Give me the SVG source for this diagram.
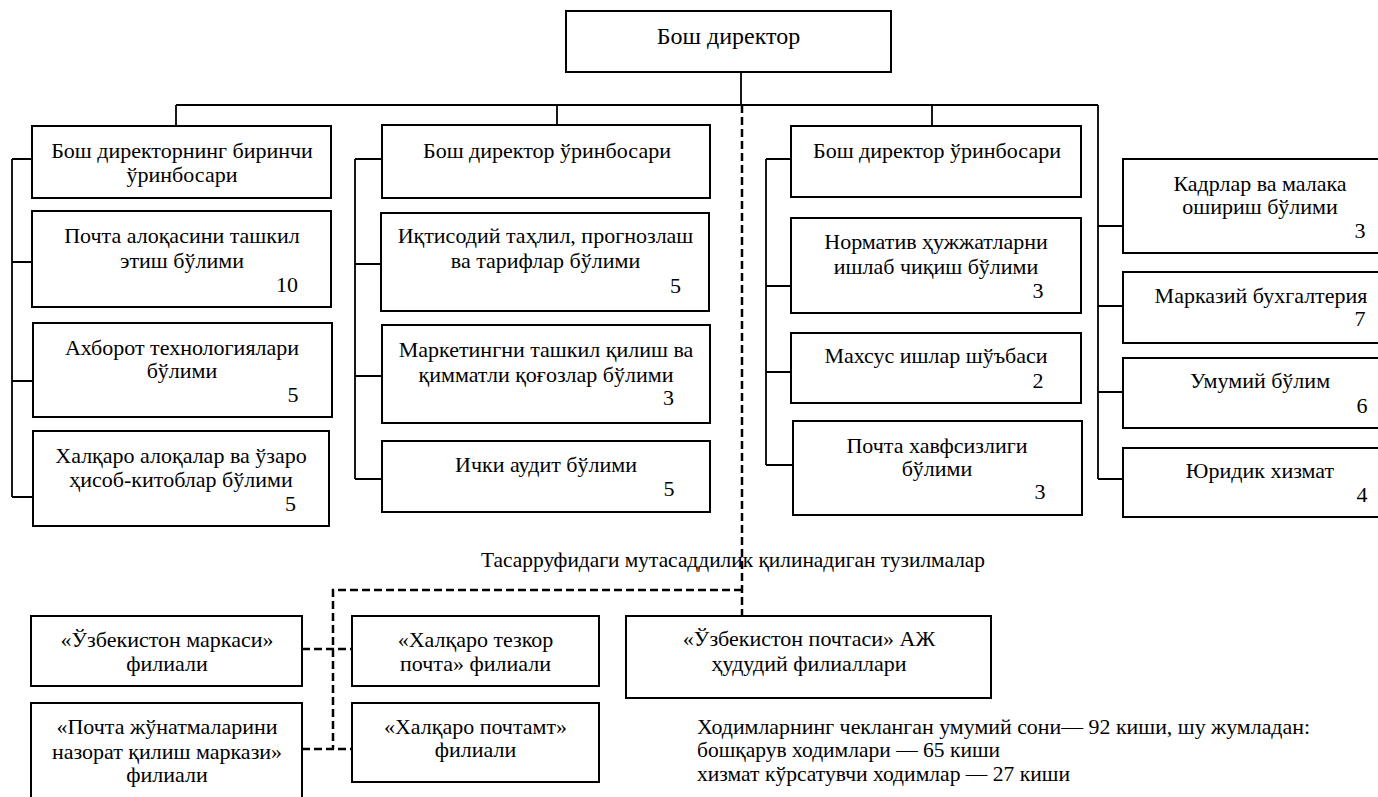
<svg xmlns="http://www.w3.org/2000/svg" width="1378" height="797" viewBox="0 0 1378 797">
<rect width="1378" height="797" fill="#fff"/>
<g id="connectors" fill="none" stroke="#000">
<path stroke-width="1.8" d="M741 72V105M176 105H1098M176 105V126M557 105V125M932 105V126"/>
<path stroke-width="1.8" d="M12 159V497M12 159H32M12 262H32M12 381H33M12 497H33"/>
<path stroke-width="1.8" d="M355 159V479M355 159H382M355 264H381M355 376H382M355 479H382"/>
<path stroke-width="1.8" d="M766 159V465M766 159H791M766 286H791M766 372H791M766 465H793"/>
<path stroke-width="1.8" d="M1098 105V479M1098 226H1123M1098 306H1123M1098 392H1123M1098 479H1123"/>
<path stroke-width="2.5" stroke-dasharray="8 4" d="M742 105V616M742 590H333V749M302 649H352M302 749H352"/>
</g>
<g id="nodes" text-anchor="middle" font-size="22">
<g id="n-top"><rect fill="#fff" stroke="#000" stroke-width="2" x="566" y="11" width="325" height="61"/><text font-family="Liberation Serif, serif" x="728.5" y="44" font-size="24">Бош директор</text></g>
<g id="n-dep1"><rect fill="#fff" stroke="#000" stroke-width="2" x="32" y="126" width="299" height="72"/><text font-family="Liberation Serif, serif" x="182" y="158">Бош директорнинг биринчи</text><text font-family="Liberation Serif, serif" x="182" y="182">ўринбосари</text></g>
<g id="n-pochta"><rect fill="#fff" stroke="#000" stroke-width="2" x="32" y="211" width="299" height="96"/><text font-family="Liberation Serif, serif" x="182" y="243">Почта алоқасини ташкил</text><text font-family="Liberation Serif, serif" x="182" y="268">этиш бўлими</text><text font-family="Liberation Serif, serif" x="287" y="292">10</text></g>
<g id="n-axborot"><rect fill="#fff" stroke="#000" stroke-width="2" x="33" y="323" width="299" height="94"/><text font-family="Liberation Serif, serif" x="182" y="355">Ахборот технологиялари</text><text font-family="Liberation Serif, serif" x="182" y="378">бўлими</text><text font-family="Liberation Serif, serif" x="293" y="402">5</text></g>
<g id="n-xalqaro"><rect fill="#fff" stroke="#000" stroke-width="2" x="33" y="431" width="296" height="95"/><text font-family="Liberation Serif, serif" x="181" y="463">Халқаро алоқалар ва ўзаро</text><text font-family="Liberation Serif, serif" x="181" y="487">ҳисоб-китоблар бўлими</text><text font-family="Liberation Serif, serif" x="290.5" y="511">5</text></g>
<g id="n-dep2"><rect fill="#fff" stroke="#000" stroke-width="2" x="382" y="125" width="328" height="73"/><text font-family="Liberation Serif, serif" x="547" y="158">Бош директор ўринбосари</text></g>
<g id="n-iqtisod"><rect fill="#fff" stroke="#000" stroke-width="2" x="381" y="213" width="328" height="98"/><text font-family="Liberation Serif, serif" x="545.5" y="243">Иқтисодий таҳлил, прогнозлаш</text><text font-family="Liberation Serif, serif" x="545.5" y="268">ва тарифлар бўлими</text><text font-family="Liberation Serif, serif" x="675.5" y="293">5</text></g>
<g id="n-marketing"><rect fill="#fff" stroke="#000" stroke-width="2" x="382" y="325" width="328" height="98"/><text font-family="Liberation Serif, serif" x="546" y="357">Маркетингни ташкил қилиш ва</text><text font-family="Liberation Serif, serif" x="546" y="382">қимматли қоғозлар бўлими</text><text font-family="Liberation Serif, serif" x="668.5" y="405">3</text></g>
<g id="n-audit"><rect fill="#fff" stroke="#000" stroke-width="2" x="382" y="441" width="328" height="71"/><text font-family="Liberation Serif, serif" x="546" y="472">Ички аудит бўлими</text><text font-family="Liberation Serif, serif" x="669" y="496">5</text></g>
<g id="n-dep3"><rect fill="#fff" stroke="#000" stroke-width="2" x="791" y="126" width="290" height="71"/><text font-family="Liberation Serif, serif" x="937" y="158">Бош директор ўринбосари</text></g>
<g id="n-normativ"><rect fill="#fff" stroke="#000" stroke-width="2" x="791" y="218" width="290" height="95"/><text font-family="Liberation Serif, serif" x="936" y="249">Норматив ҳужжатларни</text><text font-family="Liberation Serif, serif" x="936" y="274">ишлаб чиқиш бўлими</text><text font-family="Liberation Serif, serif" x="1038" y="298">3</text></g>
<g id="n-maxsus"><rect fill="#fff" stroke="#000" stroke-width="2" x="791" y="333" width="290" height="70"/><text font-family="Liberation Serif, serif" x="936" y="363">Махсус ишлар шўъбаси</text><text font-family="Liberation Serif, serif" x="1038" y="388">2</text></g>
<g id="n-xavfsiz"><rect fill="#fff" stroke="#000" stroke-width="2" x="793" y="421" width="289" height="94"/><text font-family="Liberation Serif, serif" x="937" y="453">Почта хавфсизлиги</text><text font-family="Liberation Serif, serif" x="937" y="476">бўлими</text><text font-family="Liberation Serif, serif" x="1040" y="499">3</text></g>
<g id="n-kadr"><rect fill="#fff" stroke="#000" stroke-width="2" x="1123" y="159" width="274" height="94"/><text font-family="Liberation Serif, serif" x="1260" y="191">Кадрлар ва малака</text><text font-family="Liberation Serif, serif" x="1260" y="214">ошириш бўлими</text><text font-family="Liberation Serif, serif" x="1360" y="238">3</text></g>
<g id="n-buxg"><rect fill="#fff" stroke="#000" stroke-width="2" x="1123" y="272" width="274" height="71"/><text font-family="Liberation Serif, serif" x="1261" y="303">Марказий бухгалтерия</text><text font-family="Liberation Serif, serif" x="1360" y="326">7</text></g>
<g id="n-umumiy"><rect fill="#fff" stroke="#000" stroke-width="2" x="1123" y="358" width="274" height="70"/><text font-family="Liberation Serif, serif" x="1260" y="388">Умумий бўлим</text><text font-family="Liberation Serif, serif" x="1362" y="413">6</text></g>
<g id="n-yurid"><rect fill="#fff" stroke="#000" stroke-width="2" x="1123" y="448" width="274" height="69"/><text font-family="Liberation Serif, serif" x="1260" y="478">Юридик хизмат</text><text font-family="Liberation Serif, serif" x="1362" y="502">4</text></g>
<g id="n-marka"><rect fill="#fff" stroke="#000" stroke-width="2" x="31" y="616" width="271" height="70"/><text font-family="Liberation Serif, serif" x="167" y="647">«Ўзбекистон маркаси»</text><text font-family="Liberation Serif, serif" x="167" y="671">филиали</text></g>
<g id="n-nazorat"><rect fill="#fff" stroke="#000" stroke-width="2" x="31" y="703" width="271" height="110"/><text font-family="Liberation Serif, serif" x="167" y="734">«Почта жўнатмаларини</text><text font-family="Liberation Serif, serif" x="167" y="759">назорат қилиш маркази»</text><text font-family="Liberation Serif, serif" x="167" y="782">филиали</text></g>
<g id="n-tezkor"><rect fill="#fff" stroke="#000" stroke-width="2" x="352" y="616" width="247" height="70"/><text font-family="Liberation Serif, serif" x="475.5" y="647">«Халқаро тезкор</text><text font-family="Liberation Serif, serif" x="475.5" y="671">почта» филиали</text></g>
<g id="n-pochtamt"><rect fill="#fff" stroke="#000" stroke-width="2" x="352" y="703" width="247" height="79"/><text font-family="Liberation Serif, serif" x="475.5" y="734">«Халқаро почтамт»</text><text font-family="Liberation Serif, serif" x="475.5" y="757">филиали</text></g>
<g id="n-hudud"><rect fill="#fff" stroke="#000" stroke-width="2" x="626" y="616" width="365" height="82"/><text font-family="Liberation Serif, serif" x="809" y="646">«Ўзбекистон почтаси» АЖ</text><text font-family="Liberation Serif, serif" x="809" y="671">ҳудудий филиаллари</text></g>
</g>
<g id="labels" font-size="21">
<text font-family="Liberation Serif, serif" x="481" y="567" textLength="504" lengthAdjust="spacingAndGlyphs">Тасарруфидаги мутасаддилик қилинадиган тузилмалар</text>
<text font-family="Liberation Serif, serif" x="697" y="734" textLength="613" lengthAdjust="spacingAndGlyphs">Ходимларнинг чекланган умумий сони—  92 киши, шу жумладан:</text>
<text font-family="Liberation Serif, serif" x="697" y="757" textLength="303" lengthAdjust="spacingAndGlyphs">бошқарув ходимлари — 65 киши</text>
<text font-family="Liberation Serif, serif" x="697" y="781" textLength="373" lengthAdjust="spacingAndGlyphs">хизмат кўрсатувчи ходимлар — 27 киши</text>
</g>
</svg>
